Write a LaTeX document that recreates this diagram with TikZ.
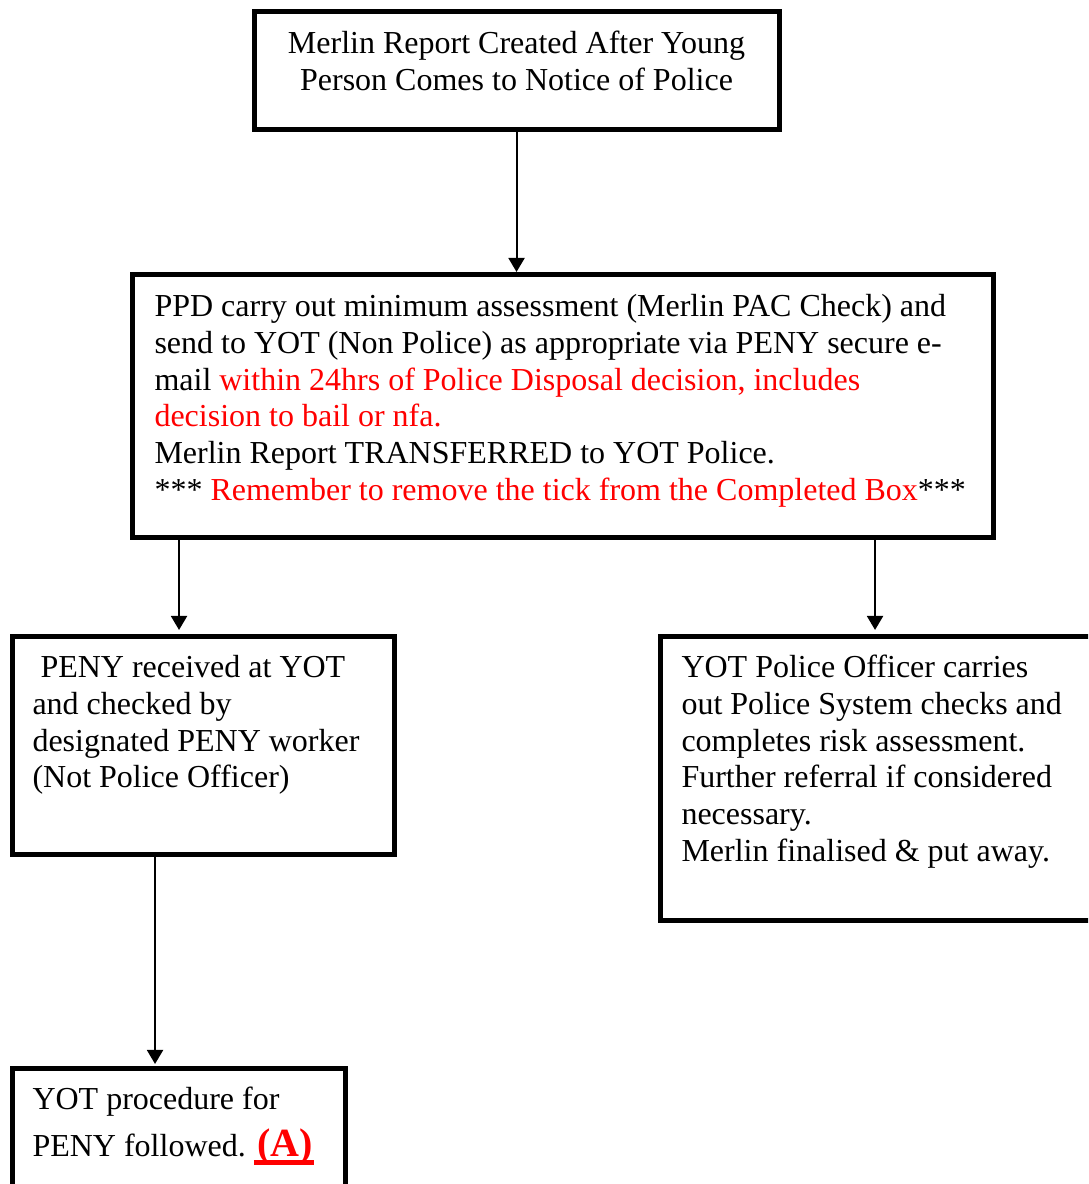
\documentclass[tikz,border=0pt]{standalone}
\usepackage{fontspec}
\setmainfont{Liberation Serif}
\usepackage{xcolor}
\usetikzlibrary{arrows.meta,positioning,calc}
\definecolor{alertred}{RGB}{255,0,0}
\newcommand{\markunder}[1]{\setbox0=\hbox{#1}\rlap{\hspace{2.5pt}\copy0}\rule[-6.25pt]{\dimexpr\wd0+3.5pt\relax}{3.75pt}}

\begin{document}
\begin{tikzpicture}[
    x=0.75pt, y=-0.75pt,
    box/.style={rectangle, draw, line width=3.75pt, outer sep=0pt, anchor=north west, align=flush left, inner ysep=0pt, inner xsep=15pt, text height=30.8pt, font=\fontsize{24}{27.6}\selectfont\frenchspacing},
    arrow/.style={-{Triangle[length=10.5pt,width=12pt]}, line width=1.5pt}
]
\useasboundingbox (0,0) rectangle (1088,1184);
\clip (0,0) rectangle (1088,1184);

\node[box, align=flush center, text width=360pt, inner xsep=16.9pt, text height=31.15pt, text depth=57.35pt] (report) at (254,12) {Merlin Report Created After Young\\Person Comes to Notice of Police};
\node[box, text width=612.75pt, inner xsep=16.5pt, text height=31.5pt, text depth=165.7pt] (ppd) at (132.5,274.5) {PPD carry out minimum assessment (Merlin PAC Check) and\\send to YOT (Non Police) as appropriate via PENY secure e-\\mail \textcolor{alertred}{within 24hrs of Police Disposal decision, includes}\\\textcolor{alertred}{decision to bail or nfa.}\\Merlin Report TRANSFERRED to YOT Police.\\{*}** \textcolor{alertred}{Remember to remove the tick from the Completed Box}***};
\node[box, text width=256.5pt, text depth=132.7pt] (peny) at (12.5,636.5) {\hspace*{0.25em}PENY received at YOT\\and checked by\\designated PENY worker\\(Not Police Officer)};
\node[box, text width=315pt, inner xsep=15.75pt, text depth=182.2pt] (officer) at (660.5,636.5) {YOT Police Officer carries\\out Police System checks and\\completes risk assessment.\\Further referral if considered\\necessary.\\Merlin finalised \& put away.};
\node[box, text width=219.75pt, text depth=68.1pt] (procedure) at (12.5,1068.5) {YOT procedure for\\[7.6pt]PENY followed. {\color{alertred}\bfseries\fontsize{30}{34}\selectfont\smash{\markunder{(A)}}}};

\draw[arrow, shorten >=1.9pt] (report.south) -- (report.south |- ppd.north);
\draw[arrow, shorten >=4.9pt] ([xshift=34.9pt]ppd.south west) -- ([xshift=34.9pt]ppd.south west |- peny.north);
\draw[arrow, shorten >=4.9pt] ([xshift=556.9pt]ppd.south west) -- ([xshift=556.9pt]ppd.south west |- officer.north);
\draw[arrow, shorten >=3.4pt] ([xshift=106.9pt]peny.south west) -- ([xshift=106.9pt]peny.south west |- procedure.north);

\end{tikzpicture}
\end{document}
